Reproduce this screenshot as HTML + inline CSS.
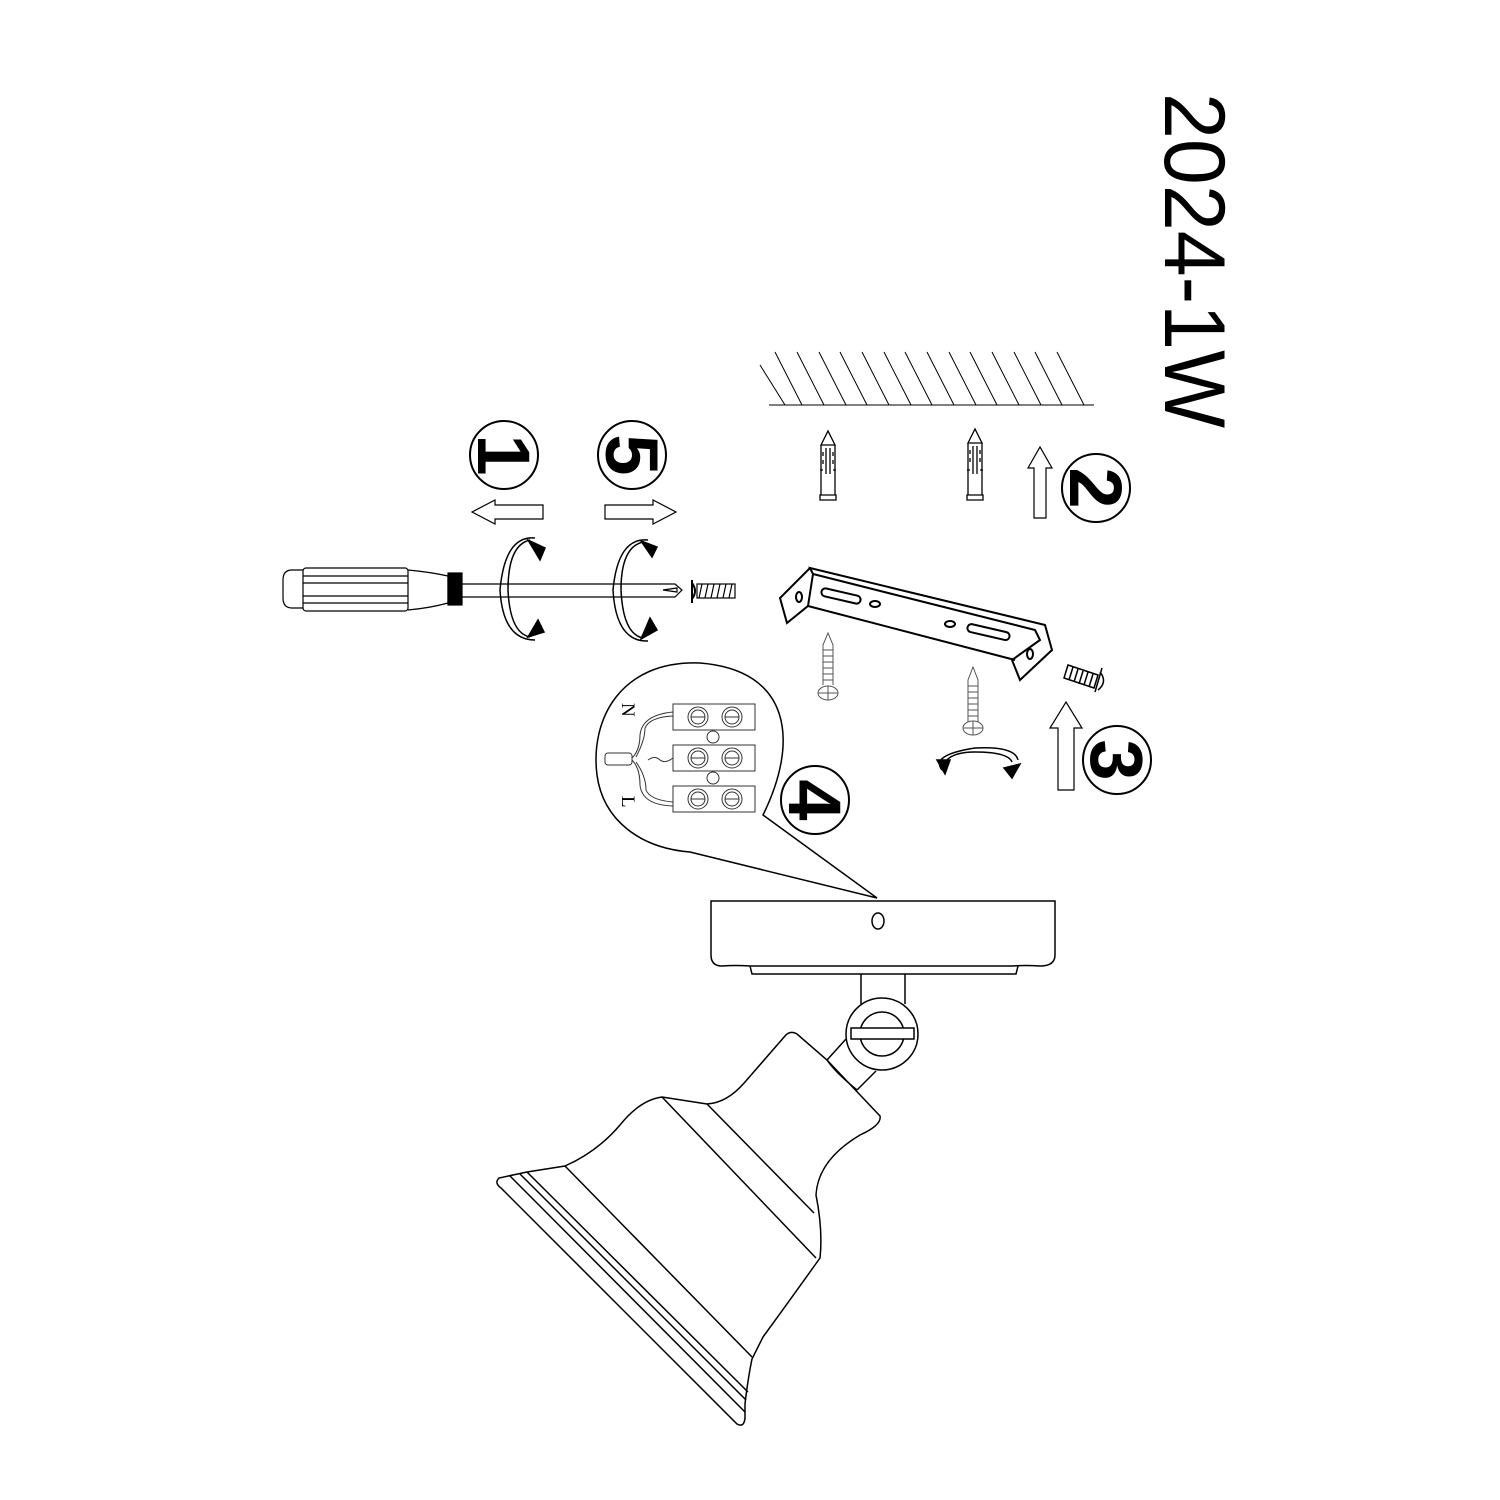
<!DOCTYPE html>
<html><head><meta charset="utf-8"><style>html,body{margin:0;padding:0;background:#fff}svg{display:block}</style></head>
<body>
<svg width="1500" height="1500" viewBox="0 0 1500 1500" xmlns="http://www.w3.org/2000/svg" fill="none" stroke="#000" stroke-width="1.5">
<rect x="0" y="0" width="1500" height="1500" fill="#fff" stroke="none"/>
<text transform="translate(1165,93) rotate(90)" x="0" y="0" font-family="Liberation Sans, sans-serif" font-size="86" fill="#000" stroke="none" textLength="335" lengthAdjust="spacingAndGlyphs">2024-1W</text>

<g font-family="Liberation Sans, sans-serif" font-weight="bold" font-size="74" fill="#000" stroke="none" text-anchor="middle">
<text transform="translate(504,455) rotate(90)" y="26">1</text>
<text transform="translate(632,455) rotate(90)" y="26">5</text>
<text transform="translate(1096,488) rotate(90)" y="26">2</text>
<text transform="translate(1117,760) rotate(90)" y="26">3</text>
<text transform="translate(815,800) rotate(90)" y="26">4</text>
</g>
<g stroke-width="2">
<circle cx="504" cy="455" r="34"/>
<circle cx="632" cy="455" r="34"/>
<circle cx="1096" cy="488" r="34"/>
<circle cx="1117" cy="760" r="34"/>
<circle cx="815" cy="800" r="34"/>
</g>

<g stroke-width="1.2">
<path d="M543,505 H495 V500 L472,512 L495,524 V519 H543 Z"/>
<path d="M605,505 H653 V500 L676,512 L653,524 V519 H605 Z"/>
<path d="M1034,518 V468 H1028 L1040,447 L1052,468 H1046 V518 Z"/>
<path d="M1058,790 V728 H1050 L1066,702 L1082,728 H1074 V790 Z"/>
</g>

<g stroke-width="1.2">
<path d="M303,570 H292 Q283,570 283,580 V598 Q283,608 292,608 H303"/>
<rect x="303" y="568" width="105" height="43" rx="3"/>
<line x1="303" y1="576" x2="408" y2="576"/><line x1="303" y1="583" x2="408" y2="583"/>
<line x1="303" y1="596" x2="408" y2="596"/><line x1="303" y1="603" x2="408" y2="603"/>
<path d="M408,570 Q430,572 448,576 V603 Q430,608 408,610"/>
<rect x="448" y="573" width="14" height="32" fill="#000"/>
<path d="M462,584 H675 L682,590 L675,597 H462"/>
<path d="M663,590 L677,588 L677,592 Z"/>
<path d="M692,580 V603 M692,583 Q698,591 692,599" stroke-width="2"/>
<rect x="697" y="584" width="38" height="14"/>
<path d="M702,584 l-3,14 M708,584 l-3,14 M714,584 l-3,14 M720,584 l-3,14 M726,584 l-3,14 M732,584 l-3,14"/>
</g>
<g stroke-width="1.5">
<path d="M535,538 Q505,535 500,590 Q503,640 535,640"/>
<path d="M530,540 Q508,545 508,590 Q510,633 530,637"/>
<path d="M528,540 L545,548 L540,560 Z" fill="#000"/>
<path d="M528,637 L544,632 L538,620 Z" fill="#000"/>
<path d="M648,540 Q618,537 613,590 Q616,642 648,641"/>
<path d="M643,542 Q621,547 621,590 Q623,634 643,638"/>
<path d="M641,541 L657,547 L652,557 Z" fill="#000"/>
<path d="M641,639 L657,630 L650,618 Z" fill="#000"/>
</g>

<g stroke-width="1">
<line x1="769" y1="405" x2="1094" y2="405"/>
<path d="M760,365 L785,405 M775,352 L802,405 M797,352 L824,405 M819,352 L846,405 M840,352 L867,405 M862,352 L889,405 M884,352 L911,405 M905,352 L932,405 M927,352 L954,405 M949,352 L976,405 M970,352 L997,405 M992,352 L1019,405 M1014,352 L1041,405 M1035,352 L1062,405 M1057,352 L1084,405"/>
</g>
<g stroke-width="1.3">
<path d="M821,445 L828,431 L835,445 Z M821,445 V495 H835 V445 M820,495 H836 V500 H820 Z M826,448 V474 M830,448 V474 M823,470 h-3 M836,470 h-3"/>
<path d="M823,452 v4 M823,460 v4 M833,452 v4 M833,460 v4"/>
<path d="M968,443 L975,429 L982,443 Z M968,443 V495 H982 V443 M967,495 H983 V500 H967 Z M973,446 V474 M977,446 V474 M970,470 h-3 M983,470 h-3"/>
<path d="M970,450 v4 M970,458 v4 M980,450 v4 M980,458 v4"/>
</g>

<g stroke-width="2">
<path d="M810,568 L1045,625 L1052,650 L1020,680 L1012,660 L1040,640 L1035,630 L813,574 Z"/>
<path d="M810,568 L780,598 L787,623 L808,606 L1015,660"/>
<path d="M813,574 L808,606"/>
<rect x="821" y="592" width="40" height="8" rx="4" transform="rotate(13 841 596)"/>
<rect x="967" y="628" width="43" height="8" rx="4" transform="rotate(13 988 632)"/>
<ellipse cx="875" cy="604" rx="5" ry="3"/>
<ellipse cx="950" cy="624" rx="5" ry="3"/>
<ellipse cx="799" cy="597" rx="3" ry="5"/>
<ellipse cx="1030" cy="654" rx="3" ry="5"/>
</g>
<g stroke-width="1" stroke="#555">
<path d="M823,685 V645 L828,633 L833,645 V685"/>
<path d="M823,650 h10 M823,656 h10 M823,662 h10 M823,668 h10 M823,674 h10 M823,680 h10"/>
<ellipse cx="828" cy="693" rx="10" ry="7"/><path d="M818,693 h20 M828,686 v14"/>
<path d="M968,722 V680 L973,667 L978,680 V722"/>
<path d="M968,686 h10 M968,692 h10 M968,698 h10 M968,704 h10 M968,710 h10 M968,716 h10"/>
<ellipse cx="973" cy="728" rx="10" ry="7"/><path d="M963,728 h20 M973,721 v14"/>
</g>
<g stroke-width="1.5">
<path d="M1068,665 L1098,675 L1094,688 L1064,678 Z"/>
<path d="M1073,667 l-4,13 M1078,669 l-4,13 M1083,671 l-4,13 M1088,672 l-4,13 M1093,674 l-4,13"/>
<path d="M1102,668 L1095,692 M1100,672 Q1108,682 1098,690"/>
</g>
<g stroke-width="1.5">
<path d="M942,770 Q930,755 975,748 Q1015,746 1018,760"/>
<path d="M944,764 Q950,752 975,752 Q1008,752 1012,762"/>
<path d="M937,760 L945,774 L950,760 Z" fill="#000"/>
<path d="M1004,768 L1020,764 L1012,778 Z" fill="#000"/>
</g>

<path d="M763,815 C800,740 790,670 700,663 C620,660 590,720 597,775 C603,820 640,848 690,852 L877,898 Z" stroke-width="1.5"/>
<g stroke-width="1" stroke="#333">
<rect x="673" y="704" width="82" height="26"/>
<rect x="673" y="745" width="82" height="26"/>
<rect x="673" y="786" width="82" height="26"/>
<circle cx="698" cy="717" r="10"/><circle cx="698" cy="717" r="7"/><line x1="691" y1="717" x2="705" y2="717"/>
<circle cx="732" cy="717" r="10"/><circle cx="732" cy="717" r="7"/><line x1="725" y1="717" x2="739" y2="717"/>
<circle cx="698" cy="758" r="10"/><circle cx="698" cy="758" r="7"/><line x1="691" y1="758" x2="705" y2="758"/>
<circle cx="732" cy="758" r="10"/><circle cx="732" cy="758" r="7"/><line x1="725" y1="758" x2="739" y2="758"/>
<circle cx="698" cy="799" r="10"/><circle cx="698" cy="799" r="7"/><line x1="691" y1="799" x2="705" y2="799"/>
<circle cx="732" cy="799" r="10"/><circle cx="732" cy="799" r="7"/><line x1="725" y1="799" x2="739" y2="799"/>
<circle cx="713" cy="737" r="6"/><circle cx="713" cy="778" r="6"/>
<rect x="605" y="753" width="27" height="12" rx="3"/>
<path d="M632,758 Q640,750 640,735 Q642,715 673,712 M632,760 Q640,768 640,785 Q642,805 673,806"/>
<path d="M636,757 Q645,740 645,728 Q650,717 673,716 M636,762 Q646,776 646,790 Q650,800 673,802"/>
<path d="M648,760 Q655,755 660,760 Q665,764 673,758"/>
</g>
<text transform="translate(622,703) rotate(90)" font-family="Liberation Serif, serif" font-size="19" fill="#000" stroke="none">N</text>
<text transform="translate(622,796) rotate(90)" font-family="Liberation Serif, serif" font-size="19" fill="#000" stroke="none">L</text>

<g stroke-width="1.5">
<path d="M711,901 H1055 V955 Q1055,966 1040,966 Q1025,965 1012,966 H750 Q735,965 722,966 Q711,966 711,955 Z"/>
<path d="M750,966 L752,974 H1016 L1018,966"/>
<ellipse cx="878" cy="921" rx="6" ry="8"/>
<path d="M861,974 V1004 M905,974 V1004"/>
<circle cx="882" cy="1034" r="36"/>
<circle cx="882" cy="1034" r="22"/>
<rect x="851" y="1028" width="63" height="11" fill="#fff"/>
<path d="M827,1060 L846,1039 M857,1090 L876,1071"/>
<path d="M797,1034 Q790,1030 785,1036 L745,1082 Q727,1103 707,1104 L662,1097 Q640,1100 620,1125 Q597,1152 565,1166 L527,1172 L499,1178 Q494,1183 501,1188 L737,1424 Q744,1428 745,1418 L745,1404 Q748,1378 752,1359 L763,1337 Q790,1300 820,1258 Q823,1230 816,1195 Q818,1160 860,1135 Q882,1125 880,1116 L827,1060 L797,1034 Z" fill="#fff"/>
<path d="M827,1060 Q835,1072 857,1090"/>
<path d="M662,1097 L816,1258 M707,1104 L814,1213 M565,1166 L752,1357"/>
<path d="M510,1176 L745,1412 M520,1174 L746,1400 M527,1172 L748,1392"/>
</g>
</svg>
</body></html>
